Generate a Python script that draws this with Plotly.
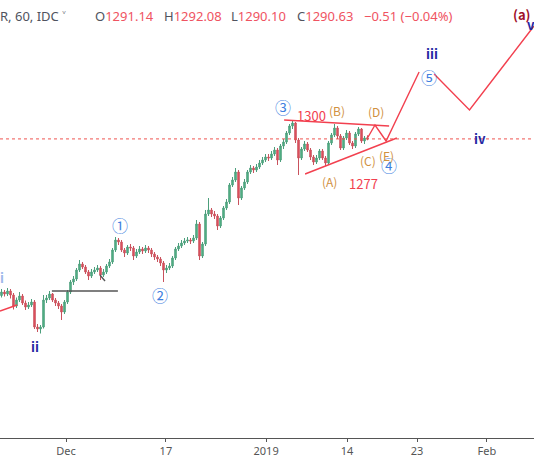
import plotly.graph_objects as go

# hourly gold bars (bar index = position on the chart)
opens = [1228.0, 1229.4, 1228.6, 1229.8, 1228.2, 1223.8, 1226.2, 1227.8, 1225.0, 1223.4,
         1224.2, 1225.4, 1215.4, 1214.6, 1215.4, 1226.2, 1227.0, 1228.6, 1226.2, 1225.0,
         1223.8, 1221.4, 1225.4, 1229.4, 1233.4, 1234.6, 1238.2, 1240.6, 1239.4, 1237.4,
         1235.8, 1237.4, 1238.2, 1239.0, 1236.2, 1237.4, 1239.8, 1241.4, 1246.2, 1250.2,
         1249.4, 1246.2, 1245.0, 1247.4, 1247.0, 1243.8, 1245.4, 1246.6, 1245.8, 1247.0,
         1246.2, 1244.6, 1243.4, 1242.6, 1241.0, 1238.2, 1239.0, 1239.8, 1243.0, 1246.6,
         1247.8, 1249.0, 1249.8, 1250.2, 1249.8, 1251.0, 1256.6, 1243.8, 1248.6, 1260.6,
         1262.2, 1260.6, 1259.8, 1255.8, 1259.0, 1263.0, 1265.4, 1272.2, 1274.2, 1277.4,
         1267.0, 1271.0, 1273.4, 1277.4, 1279.0, 1278.2, 1279.4, 1281.0, 1282.2, 1283.4,
         1283.0, 1284.6, 1286.2, 1282.2, 1287.8, 1289.4, 1293.0, 1295.8, 1297.0, 1290.2,
         1283.0, 1286.6, 1288.6, 1286.2, 1283.4, 1281.4, 1283.0, 1285.8, 1283.0, 1281.0,
         1289.0, 1292.2, 1295.0, 1291.8, 1287.0, 1291.0, 1293.0, 1289.0, 1287.8, 1292.6,
         1294.6, 1289.8, 1291.14]
highs = [1230.6, 1230.2, 1231.0, 1230.6, 1229.0, 1227.2, 1229.4, 1228.6, 1226.0, 1225.4,
         1226.6, 1226.2, 1216.6, 1216.2, 1228.2, 1228.2, 1229.8, 1229.0, 1227.0, 1225.8,
         1224.6, 1226.2, 1230.2, 1234.2, 1235.8, 1239.0, 1242.2, 1241.4, 1240.2, 1238.2,
         1238.6, 1239.4, 1240.2, 1239.8, 1238.6, 1240.6, 1242.6, 1247.0, 1251.4, 1251.0,
         1250.2, 1247.0, 1248.2, 1248.6, 1247.8, 1246.6, 1247.8, 1247.4, 1248.2, 1247.8,
         1247.0, 1245.4, 1244.2, 1243.4, 1241.8, 1240.2, 1241.0, 1243.8, 1247.4, 1249.0,
         1250.2, 1251.0, 1251.4, 1251.0, 1252.2, 1258.2, 1257.4, 1249.4, 1262.2, 1267.0,
         1263.0, 1261.8, 1260.6, 1259.8, 1263.8, 1266.6, 1273.0, 1275.4, 1279.0, 1278.2,
         1271.8, 1274.6, 1278.2, 1280.2, 1279.8, 1280.6, 1282.2, 1283.4, 1284.6, 1284.6,
         1285.8, 1287.4, 1287.0, 1288.6, 1290.6, 1293.8, 1296.6, 1297.8, 1297.4, 1291.0,
         1287.4, 1289.8, 1289.4, 1287.0, 1284.2, 1284.2, 1286.6, 1286.6, 1283.8, 1289.8,
         1293.0, 1296.6, 1295.8, 1292.6, 1291.8, 1294.2, 1293.8, 1289.8, 1293.4, 1295.4,
         1295.0, 1291.8, 1292.08]
lows = [1227.2, 1227.6, 1227.8, 1226.8, 1222.4, 1223.0, 1225.4, 1224.2, 1222.2, 1222.6,
        1223.4, 1214.6, 1213.4, 1212.8, 1214.8, 1225.0, 1226.2, 1225.4, 1223.8, 1222.6,
        1218.2, 1220.6, 1224.6, 1228.6, 1232.2, 1233.8, 1237.4, 1238.6, 1236.6, 1234.2,
        1235.0, 1236.6, 1237.4, 1234.2, 1235.4, 1236.6, 1239.0, 1240.6, 1245.4, 1248.2,
        1245.4, 1243.4, 1244.2, 1245.8, 1242.2, 1243.0, 1244.6, 1244.6, 1245.0, 1245.0,
        1243.4, 1242.2, 1241.4, 1239.8, 1233.4, 1237.0, 1238.2, 1239.0, 1242.2, 1245.8,
        1247.0, 1248.2, 1249.0, 1248.6, 1249.0, 1250.2, 1242.2, 1243.0, 1247.8, 1259.8,
        1259.4, 1258.6, 1254.2, 1255.0, 1258.2, 1262.2, 1264.6, 1271.4, 1273.4, 1264.2,
        1266.2, 1270.2, 1272.6, 1276.6, 1277.0, 1277.4, 1278.6, 1280.2, 1281.4, 1281.8,
        1282.2, 1283.8, 1280.2, 1281.4, 1286.6, 1288.6, 1292.2, 1294.6, 1289.0, 1276.2,
        1282.2, 1285.8, 1285.4, 1282.2, 1280.2, 1280.6, 1282.2, 1282.2, 1279.8, 1280.2,
        1288.2, 1291.4, 1290.6, 1286.2, 1286.2, 1290.2, 1288.2, 1286.6, 1287.0, 1291.8,
        1289.0, 1288.6, 1290.10]
closes = [1229.4, 1228.6, 1229.8, 1228.2, 1223.8, 1226.2, 1227.8, 1225.0, 1223.4, 1224.2,
          1225.4, 1215.4, 1214.6, 1215.4, 1226.2, 1227.0, 1228.6, 1226.2, 1225.0, 1223.8,
          1221.4, 1225.4, 1229.4, 1233.4, 1234.6, 1238.2, 1240.6, 1239.4, 1237.4, 1235.8,
          1237.4, 1238.2, 1239.0, 1236.2, 1237.4, 1239.8, 1241.4, 1246.2, 1250.2, 1249.4,
          1246.2, 1245.0, 1247.4, 1247.0, 1243.8, 1245.4, 1246.6, 1245.8, 1247.0, 1246.2,
          1244.6, 1243.4, 1242.6, 1241.0, 1238.2, 1239.0, 1239.8, 1243.0, 1246.6, 1247.8,
          1249.0, 1249.8, 1250.2, 1249.8, 1251.0, 1256.6, 1243.8, 1248.6, 1260.6, 1262.2,
          1260.6, 1259.8, 1255.8, 1259.0, 1263.0, 1265.4, 1272.2, 1274.2, 1277.4, 1267.0,
          1271.0, 1273.4, 1277.4, 1279.0, 1278.2, 1279.4, 1281.0, 1282.2, 1283.4, 1283.0,
          1284.6, 1286.2, 1282.2, 1287.8, 1289.4, 1293.0, 1295.8, 1297.0, 1290.2, 1283.0,
          1286.6, 1288.6, 1286.2, 1283.4, 1281.4, 1283.0, 1285.8, 1283.0, 1281.0, 1289.0,
          1292.2, 1295.0, 1291.8, 1287.0, 1291.0, 1293.0, 1289.0, 1287.8, 1292.6, 1294.6,
          1289.8, 1291.0, 1290.63]
bars = list(range(len(closes)))

tick_pos = [21.5, 54.8, 88.2, 115.2, 138.5, 161.8]
tick_text = ["Dec", "17", "2019", "14", "23", "Feb"]

# drawings
tri_top_x, tri_top_y = [94.2, 129.2], [1298.2, 1295.8]
tri_bot_x, tri_bot_y = [101.2, 131.8], [1276.6, 1291.0]
wave_x = [122.2, 124.5, 128.2, 139.2]
wave_y = [1291.4, 1296.2, 1289.8, 1317.4]
wave2_x = [144.2, 156.0, 177.5]
wave2_y = [1316.6, 1302.2, 1335.8]
left_line_x, left_line_y = [-0.5, 5.2], [1221.8, 1224.2]
flat_x, flat_y = [16.8, 38.8], [1229.8, 1229.8]
diag_x, diag_y = [32.8, 34.5], [1236.2, 1233.8]

fig = go.Figure()
fig.add_trace(go.Candlestick(
    x=bars, open=opens, high=highs, low=lows, close=closes,
    increasing=dict(fillcolor="#53b987", line=dict(color="#4c9f7c", width=1)),
    decreasing=dict(fillcolor="#eb4d5c", line=dict(color="#c9525d", width=1)),
    whiskerwidth=0, showlegend=False))

red = "#f2404f"
for xs, ys, col in [(tri_top_x, tri_top_y, red), (tri_bot_x, tri_bot_y, red),
                    (wave_x, wave_y, red), (wave2_x, wave2_y, red),
                    (left_line_x, left_line_y, red),
                    (flat_x, flat_y, "#555555"), (diag_x, diag_y, "#555555")]:
    fig.add_trace(go.Scatter(x=xs, y=ys, mode="lines", line=dict(color=col, width=1.4),
                             showlegend=False, hoverinfo="skip"))

fig.add_hline(y=closes[-1], line=dict(color="#ef5350", width=1, dash="dot"))

blue = "#3f7fe0"
navy = "#2527a3"
orange = "#d1913f"
labels = [
    ("①", 39.5, 1256.2, blue, 16, False), ("②", 52.8, 1228.2, blue, 16, False),
    ("③", 93.8, 1303.4, blue, 16, False), ("④", 129.2, 1280.2, blue, 16, False),
    ("⑤", 142.5, 1315.4, blue, 16, False),
    ("ii", 11.2, 1207.8, navy, 13, True), ("iii", 143.5, 1325.0, navy, 13, True),
    ("iv", 159.5, 1291.0, navy, 13, True), ("v", 176.5, 1336.6, navy, 13, True),
    ("(a)", 173.5, 1340.6, "#a0102a", 13, True), ("i", 0.2, 1235.4, "#9fb8ea", 13, True),
    ("1300", 103.2, 1300.2, red, 13, False), ("1277", 120.8, 1273.0, red, 13, False),
    ("(A)", 109.2, 1273.8, orange, 12, False), ("(B)", 111.8, 1302.2, orange, 12, False),
    ("(C)", 122.2, 1282.2, orange, 12, False), ("(D)", 124.8, 1301.8, orange, 12, False),
    ("(E)", 128.2, 1284.2, orange, 12, False),
]
for txt, x, y, col, size, bold in labels:
    fig.add_annotation(x=x, y=y, text="<b>%s</b>" % txt if bold else txt, showarrow=False,
                       font=dict(color=col, size=size, family="Noto Sans CJK JP, DejaVu Sans"))

gray = "#50535e"
pink = "#ef5361"
header = [("R, 60, IDC ˅", -2, None), ("O", 93, "1291.14"), ("H", 162, "1292.08"),
          ("L", 229, "1290.10"), ("C", 295, "1290.63"), ("", 362, "−0.51 (−0.04%)")]
for letter, px, num in header:
    txt = "<span style='color:%s'>%s</span>" % (gray, letter)
    if num:
        txt += "<span style='color:%s'>%s</span>" % (pink, num)
    fig.add_annotation(xref="paper", yref="paper", x=px / 534, y=1 - 16 / 438,
                       xanchor="left", yanchor="middle", text=txt, showarrow=False,
                       font=dict(size=13, family="Noto Sans", color=gray))

fig.update_layout(
    width=534, height=462, margin=dict(l=0, r=0, t=0, b=24),
    plot_bgcolor="white", paper_bgcolor="white",
    xaxis=dict(range=[-0.5, 177.5], rangeslider=dict(visible=False), showgrid=False,
               zeroline=False, tickvals=tick_pos, ticktext=tick_text, ticks="outside",
               ticklen=3, tickcolor="#555", showline=True, linecolor="#555",
               tickfont=dict(size=11, color="#555", family="Noto Sans")),
    yaxis=dict(range=[1171.0, 1346.2], visible=False, showgrid=False),
)

fig.write_html("out.html", config={"displayModeBar": False},
               post_script="document.body.style.margin='0';")
